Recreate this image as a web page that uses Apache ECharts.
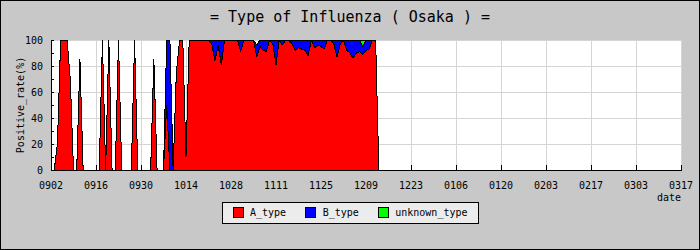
<!DOCTYPE html>
<html><head><meta charset="utf-8">
<script src="https://cdn.jsdelivr.net/npm/echarts@6/dist/echarts.min.js"></script>
<style>html,body{margin:0;padding:0;background:#c8c8c8}#c{width:700px;height:250px}
#c svg path, #c svg rect, #c svg polyline, #c svg polygon, #c svg line{shape-rendering:crispEdges}</style>
</head><body><div id="c"></div>
<script>
const categories = [
'0902','0903','0904','0905','0906','0907','0908','0909','0910','0911','0912','0913','0914','0915',
'0916','0917','0918','0919','0920','0921','0922','0923','0924','0925','0926','0927','0928','0929',
'0930','1001','1002','1003','1004','1005','1006','1007','1008','1009','1010','1011','1012','1013',
'1014','1015','1016','1017','1018','1019','1020','1021','1022','1023','1024','1025','1026','1027',
'1028','1029','1030','1031','1101','1102','1103','1104','1105','1106','1107','1108','1109','1110',
'1111','1112','1113','1114','1115','1116','1117','1118','1119','1120','1121','1122','1123','1124',
'1125','1126','1127','1128','1129','1130','1201','1202','1203','1204','1205','1206','1207','1208',
'1209','1210','1211','1212','1213','1214','1215','1216','1217','1218','1219','1220','1221','1222',
'1223','1224','1225','1226','1227','1228','1229','1230','1231','0101','0102','0103','0104','0105',
'0106','0107','0108','0109','0110','0111','0112','0113','0114','0115','0116','0117','0118','0119',
'0120','0121','0122','0123','0124','0125','0126','0127','0128','0129','0130','0131','0201','0202',
'0203','0204','0205','0206','0207','0208','0209','0210','0211','0212','0213','0214','0215','0216',
'0217','0218','0219','0220','0221','0222','0223','0224','0225','0226','0227','0228','0301','0302',
'0303','0304','0305','0306','0307','0308','0309','0310','0311','0312','0313','0314','0315','0316',
'0317'];
const tickLabels = ['0902','0916','0930','1014','1028','1111','1125','1209','1223','0106','0120','0203','0217','0303','0317'];
const aType = [
0,0,20,100,100,100,70,0,0,85,0,0,0,0,
0,0,100,0,100,0,0,100,0,0,0,0,100,0,
0,0,0,0,85,0,0,0,50,0,0,75,100,100,
10,100,100,100,100,100,100,100,97,84,96,81,100,100,
100,100,100,91,100,100,100,100,87,95,92,91,100,97,
81,100,96,100,100,97,92,94,93,92,88,100,94,96,
95,93,100,100,97,87,97,100,92,90,86,90,91,89,
92,93,100,100,0,0,0,0,0,0,0,0,0,0,
0,0,0,0,0,0,0,0,0,0,0,0,0,0,
0,0,0,0,0,0,0,0,0,0,0,0,0,0,
0,0,0,0,0,0,0,0,0,0,0,0,0,0,
0,0,0,0,0,0,0,0,0,0,0,0,0,0,
0,0,0,0,0,0,0,0,0,0,0,0,0,0,
0,0,0,0,0,0,0,0,0,0,0,0,0,0,
0];
const bType = [
0,0,0,0,0,0,0,0,0,0,0,0,0,0,
0,0,0,0,0,0,0,0,0,0,0,0,0,0,
0,0,0,0,0,0,0,0,50,100,0,0,0,0,
0,0,0,0,0,0,0,0,3,16,4,19,0,0,
0,0,0,9,0,0,0,0,9,5,8,9,0,3,
19,0,4,0,0,3,8,6,7,8,12,0,6,4,
5,7,0,0,3,13,3,0,8,10,14,10,9,6,
8,7,0,0,0,0,0,0,0,0,0,0,0,0,
0,0,0,0,0,0,0,0,0,0,0,0,0,0,
0,0,0,0,0,0,0,0,0,0,0,0,0,0,
0,0,0,0,0,0,0,0,0,0,0,0,0,0,
0,0,0,0,0,0,0,0,0,0,0,0,0,0,
0,0,0,0,0,0,0,0,0,0,0,0,0,0,
0,0,0,0,0,0,0,0,0,0,0,0,0,0,
0];
const unknownType = [
0,0,0,0,0,0,0,0,0,0,0,0,0,0,
0,0,0,0,0,0,0,0,0,0,0,0,0,0,
0,0,0,0,0,0,0,0,0,0,0,0,0,0,
0,0,0,0,0,0,0,0,0,0,0,0,0,0,
0,0,0,0,0,0,0,0,0,0,0,0,0,0,
0,0,0,0,0,0,0,0,0,0,0,0,0,0,
0,0,0,0,0,0,0,0,0,0,0,0,0,5,
0,0,0,0,0,0,0,0,0,0,0,0,0,0,
0,0,0,0,0,0,0,0,0,0,0,0,0,0,
0,0,0,0,0,0,0,0,0,0,0,0,0,0,
0,0,0,0,0,0,0,0,0,0,0,0,0,0,
0,0,0,0,0,0,0,0,0,0,0,0,0,0,
0,0,0,0,0,0,0,0,0,0,0,0,0,0,
0,0,0,0,0,0,0,0,0,0,0,0,0,0,
0];
const seriesNames = ['A_type','B_type','unknown_type'];
const seriesColors = ['#ff0000','#0000ff','#00ff00'];
const seriesData = [aType, bType, unknownType];

const mono = 'DejaVu Sans Mono';
const showTick = (i, v) => tickLabels.indexOf(v) >= 0;
const chart = echarts.init(document.getElementById('c'), null, {renderer: 'svg'});
chart.setOption({
  animation: false,
  backgroundColor: '#c8c8c8',
  title: {
    text: '= Type of Influenza ( Osaka ) =', left: 'center', top: 4,
    textStyle: {fontFamily: mono, fontSize: 15, fontWeight: 'normal', color: '#000'}
  },
  graphic: [{type: 'rect', shape: {x: 0.5, y: 0.5, width: 699, height: 249},
    style: {fill: null, stroke: '#000', lineWidth: 1}, silent: true, z: 100}],
  grid: {left: 51, right: 19, top: 40, bottom: 80, show: true, backgroundColor: '#fff',
    borderColor: '#000', borderWidth: 1, containLabel: false, outerBoundsMode: 'none'},
  legend: {
    data: seriesNames, left: 'center', top: 202, icon: 'rect',
    itemWidth: 10, itemHeight: 10, itemGap: 19, padding: [5, 11, 5, 10],
    backgroundColor: '#ececec', borderColor: '#000', borderWidth: 1, borderRadius: 0,
    itemStyle: {borderColor: '#000', borderWidth: 1},
    textStyle: {fontFamily: mono, fontSize: 10, color: '#000', padding: [0, 0, 0, 2]}
  },
  xAxis: {
    type: 'category', data: categories, boundaryGap: false,
    name: 'date', nameLocation: 'end', nameGap: 0, nameMoveOverlap: false,
    nameTextStyle: {fontFamily: mono, fontSize: 10, color: '#000', align: 'right', verticalAlign: 'top', padding: [22, 0, 0, 0]},
    axisLine: {lineStyle: {color: '#000', width: 1}},
    axisTick: {inside: true, length: 5, interval: showTick, lineStyle: {color: '#000'}},
    axisLabel: {interval: showTick, margin: 10, fontFamily: mono, fontSize: 10, color: '#000'},
    splitLine: {show: true, interval: showTick, lineStyle: {color: '#d4d4d4', width: 1}}
  },
  yAxis: {
    type: 'value', min: 0, max: 100, interval: 20,
    name: 'Positive_rate(%)', nameLocation: 'middle', nameGap: 26, nameRotate: 90, nameMoveOverlap: false,
    nameTextStyle: {fontFamily: mono, fontSize: 10, color: '#000'},
    axisLine: {show: true, lineStyle: {color: '#000', width: 1}},
    axisTick: {show: true, inside: true, length: 3, lineStyle: {color: '#000'}},
    minorTick: {show: true, splitNumber: 2, length: 3, lineStyle: {color: '#000'}},
    axisLabel: {margin: 8, fontFamily: mono, fontSize: 10, color: '#000'},
    splitLine: {show: true, lineStyle: {color: '#d4d4d4', width: 1}}
  },
  series: seriesNames.map((n, i) => ({
    name: n, type: 'line', stack: 'total', data: seriesData[i],
    symbol: 'none', showSymbol: false, z: 5 - i,
    lineStyle: {color: '#000', width: 1},
    itemStyle: {color: seriesColors[i]},
    areaStyle: {color: seriesColors[i], opacity: 1}
  }))
});
</script>
</body></html>
